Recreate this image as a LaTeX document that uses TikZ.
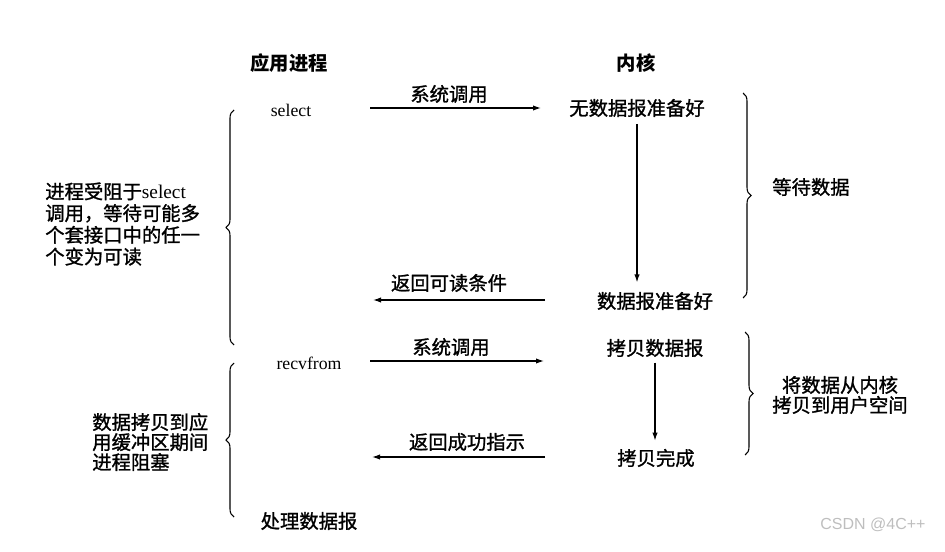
\documentclass[tikz,border=0pt]{standalone}
\usepackage{fontspec}
\setmainfont{Liberation Serif}
\newfontfamily\cjk[FakeBold=1.2]{Noto Sans CJK SC}
\newfontfamily\cjkhead{Noto Sans CJK SC}
\newfontfamily\wmfont{Liberation Sans}
\usetikzlibrary{arrows.meta,decorations.pathreplacing}
\definecolor{wmgray}{RGB}{190,190,190}

\begin{document}
\begin{tikzpicture}[x=0.75pt, y=-0.75pt,
      txt/.style={inner sep=0pt, font=\cjk\fontsize{14.5}{16}\selectfont},
      head/.style={inner sep=0pt, font=\cjkhead\bfseries\fontsize{14.5}{16}\selectfont},
      call/.style={inner sep=0pt, font=\rmfamily\fontsize{13.3}{15}\selectfont},
      note/.style={inner sep=0pt, align=left, font=\cjk\fontsize{14.5}{16.3}\selectfont},
      arr/.style={-{Latex[length=6pt,width=4pt]}, line width=0.9pt},
      brc/.style={decorate, decoration={brace, amplitude=6pt}, line width=0.8pt}
    ]
    \useasboundingbox (0,0) rectangle (945,552);

    % column heads
    \node[head] (app) at (289,63) {应用进程};
    \node[head] (kern) at (636,63) {内核};

    % select phase
    \node[call] (sel) at (291,110) {select};
    \node[txt] (nodata) at (637,108) {无数据报准备好};
    \node[txt] (ready) at (655,301) {数据报准备好};
    \coordinate (c1s) at (370,108);
    \coordinate (c1e) at (541,108);
    \node[txt] (c1l) at (449,94) {系统调用};
    \coordinate (r1s) at (545,300);
    \coordinate (r1e) at (373,300);
    \node[txt] (r1l) at (449,283) {返回可读条件};
    \draw[arr] (c1s) -- (c1e);
    \draw[arr] (r1s) -- (r1e);
    \draw[arr, shorten <=5pt, shorten >=7pt] (nodata.south) -- (nodata.south |- ready.north);

    % recvfrom phase
    \node[call] (recv) at (309,363) {recvfrom};
    \node[txt] (copy) at (655,348) {拷贝数据报};
    \node[txt] (done) at (656,458) {拷贝完成};
    \node[txt] (proc) at (309,521) {处理数据报};
    \coordinate (c2s) at (370,361);
    \coordinate (c2e) at (544,361);
    \node[txt] (c2l) at (451,347) {系统调用};
    \coordinate (r2s) at (545,457);
    \coordinate (r2e) at (372,457);
    \node[txt] (r2l) at (467,442) {返回成功指示};
    \draw[arr] (c2s) -- (c2e);
    \draw[arr] (r2s) -- (r2e);
    \draw[arr, shorten <=4pt, shorten >=6pt] (copy.south) -- (copy.south |- done.north);

    % braces, left side
    \coordinate (b1t) at (234,110);
    \coordinate (b1b) at (234,345);
    \draw[brc] (b1b) -- (b1t);
    \node[note, anchor=west] (blk1) at (45,224)
      {进程受阻于{\rmfamily select}\\
       调用，等待可能多\\
       个套接口中的任一\\
       个变为可读};
    \coordinate (b2t) at (234,363);
    \coordinate (b2b) at (234,517);
    \draw[brc] (b2b) -- (b2t);
    \node[note, anchor=west, font=\cjk\fontsize{14.5}{15}\selectfont] (blk2) at (92,442)
      {数据拷贝到应\\
       用缓冲区期间\\
       进程阻塞};

    % braces, right side
    \coordinate (b3t) at (743,93);
    \coordinate (b3b) at (743,298);
    \draw[brc] (b3t) -- (b3b);
    \node[txt, anchor=west] (wait) at (772,187) {等待数据};
    \coordinate (b4t) at (745,332);
    \coordinate (b4b) at (745,455);
    \draw[brc] (b4t) -- (b4b);
    \node[note, align=center, font=\cjk\fontsize{14.5}{15}\selectfont] (cpy) at (840,395)
      {将数据从内核\\
       拷贝到用户空间};

    \node[inner sep=0pt, text=wmgray, font=\wmfont\fontsize{12}{14}\selectfont] (wm) at (873,525) {CSDN @4C++};
  \end{tikzpicture}
\end{document}
